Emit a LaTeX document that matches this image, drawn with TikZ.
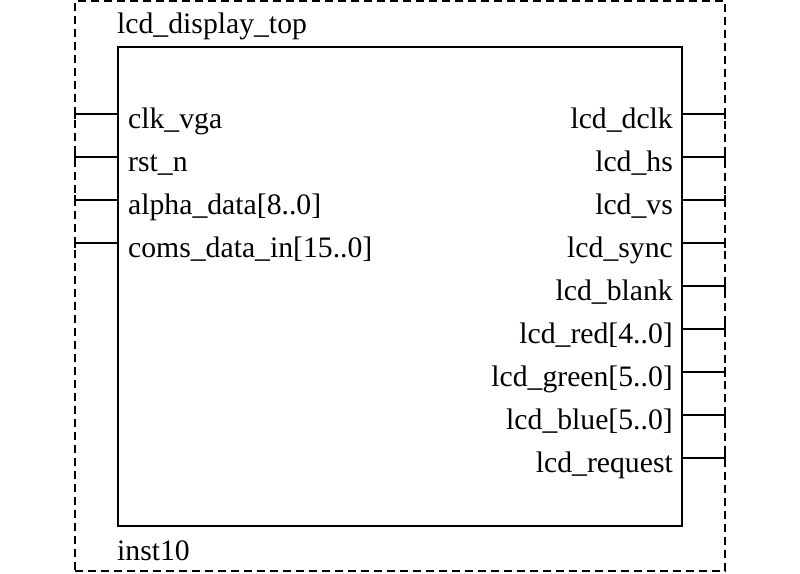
\documentclass[tikz,border=0pt]{standalone}
\usepackage{fontspec}
\setmainfont{Liberation Serif}
\begin{document}
\begin{tikzpicture}[x=1pt,y=-1pt,
  lbl/.style={inner sep=0pt,font=\fontsize{29.7}{32}\selectfont},
  framebox/.style={draw,line width=2pt,dash pattern=on 8pt off 5pt,minimum width=650pt,minimum height=570pt,inner sep=0pt},
  blockbox/.style={draw,line width=2.5pt,minimum width=564pt,minimum height=479pt,inner sep=0pt},
  pinline/.style={line width=2pt},
  tick/.style={line width=2pt}]
\useasboundingbox (0,0) rectangle (800,573);
\node[framebox] (frame) at (400,286) {};
\node[blockbox] (blk) at (400,286.5) {};
\node[lbl,anchor=base west] (title) at (117,33) {lcd\_display\_top};
\node[lbl,anchor=base west] (inst) at (117,560) {inst10};
% left pins
\foreach \i/\t in {0/clk\_vga,1/rst\_n,2/alpha\_data[8..0],3/coms\_data\_in[15..0]}{
  \coordinate (L\i) at (75,114+43*\i);
  \draw[pinline] (L\i) -- (blk.west |- L\i);
  \draw[tick] ([yshift=-5pt]L\i) -- ([yshift=5pt]L\i);
  \node[lbl,anchor=base west] (lt\i) at (128,128+43*\i) {\t};
}
% right pins
\foreach \i/\t in {0/lcd\_dclk,1/lcd\_hs,2/lcd\_vs,3/lcd\_sync,4/lcd\_blank,5/lcd\_red[4..0],6/lcd\_green[5..0],7/lcd\_blue[5..0],8/lcd\_request}{
  \coordinate (R\i) at (725,114+43*\i);
  \draw[pinline] (blk.east |- R\i) -- (R\i);
  \draw[tick] ([yshift=-5pt]R\i) -- ([yshift=5pt]R\i);
  \node[lbl,anchor=base east] (rt\i) at (673,128+43*\i) {\t};
}
\end{tikzpicture}
\end{document}
